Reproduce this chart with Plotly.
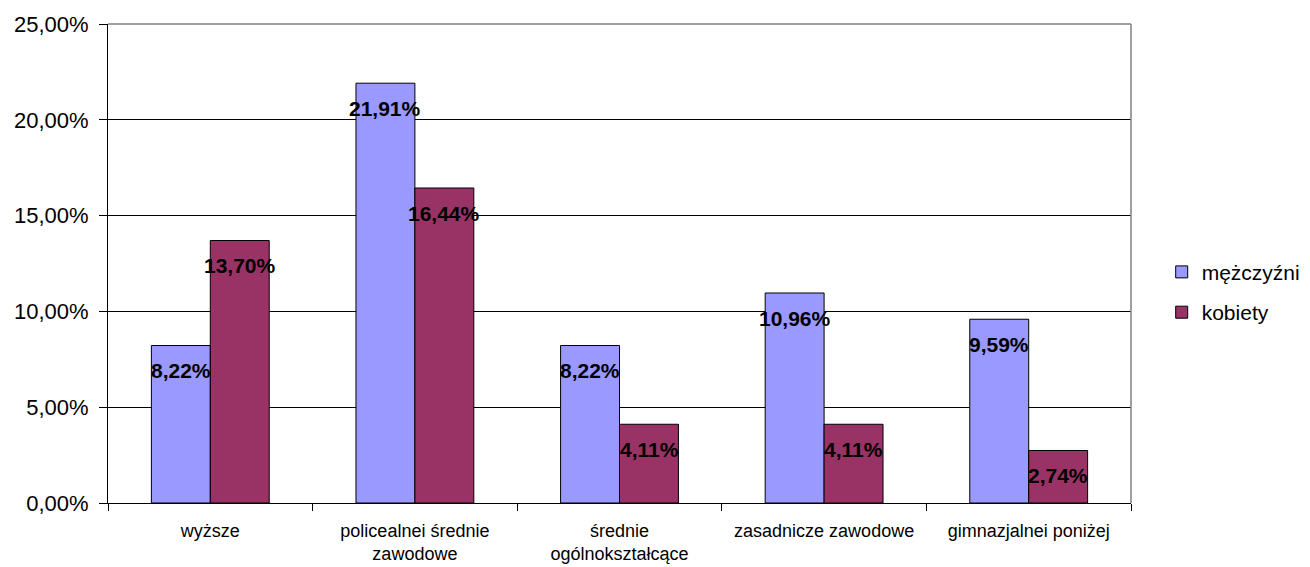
import plotly.graph_objects as go

categories = ["wyższe", "policealnei średnie<br>zawodowe", "średnie<br>ogólnokształcące",
              "zasadnicze zawodowe", "gimnazjalnei poniżej"]
men = [0.0822, 0.2191, 0.0822, 0.1096, 0.0959]
women = [0.1370, 0.1644, 0.0411, 0.0411, 0.0274]
series_names = ["mężczyźni", "kobiety"]
tick_vals = [0, 0.05, 0.10, 0.15, 0.20, 0.25]

FONT = "Liberation Sans, Arial, sans-serif"

def pct(v):
    return f"{v*100:.2f}%".replace(".", ",")

fig = go.Figure()
fig.add_trace(go.Bar(x=categories, y=men, name=series_names[0], legendgroup="a",
                     marker=dict(color="#9999FF", line=dict(color="black", width=1))))
fig.add_trace(go.Bar(x=categories, y=women, name=series_names[1], legendgroup="b",
                     marker=dict(color="#993366", line=dict(color="black", width=1))))

annotations = []
for vals, shift in ((men, -29.5), (women, 29.5)):
    for c, v in zip(categories, vals):
        annotations.append(dict(x=c, y=v, text=pct(v), showarrow=False, xref="x", yref="y",
                                xshift=shift, yshift=-25, yanchor="middle",
                                font=dict(family=FONT, size=21, color="black", weight="bold")))

fig.update_layout(
    width=1310, height=567,
    margin=dict(l=100, r=174, t=16, b=72),
    paper_bgcolor="white", plot_bgcolor="white",
    separators=", ",
    barmode="group", bargap=0.424, bargroupgap=0,
    font=dict(family=FONT, color="black"),
    showlegend=True,
    legend=dict(x=1.03, y=0.44, xanchor="left", yanchor="middle",
                font=dict(family=FONT, size=21, color="black"),
                tracegroupgap=10, itemwidth=30, bgcolor="rgba(0,0,0,0)"),
    annotations=annotations,
    xaxis=dict(showgrid=False, showline=True, linecolor="black", linewidth=1,
               ticks="outside", tickson="boundaries", ticklen=7, tickcolor="black",
               automargin=False, ticklabelstandoff=11,
               tickfont=dict(family=FONT, size=18, color="black")),
    yaxis=dict(range=[0, 0.25], tickvals=tick_vals, tickformat=".2%",
               showgrid=True, gridcolor="black", gridwidth=1,
               showline=True, linecolor="black", linewidth=1,
               ticks="outside", ticklen=8, tickcolor="black", automargin=False,
               ticklabelstandoff=6,
               tickfont=dict(family=FONT, size=22, color="black"), zeroline=False),
    shapes=[
        dict(type="line", xref="paper", yref="paper", x0=0, x1=1, y0=1, y1=1,
             line=dict(color="#808080", width=1.5)),
        dict(type="line", xref="paper", yref="paper", x0=1, x1=1, y0=0, y1=1,
             line=dict(color="#808080", width=1.5)),
    ],
)

fig.write_html("out.html")
